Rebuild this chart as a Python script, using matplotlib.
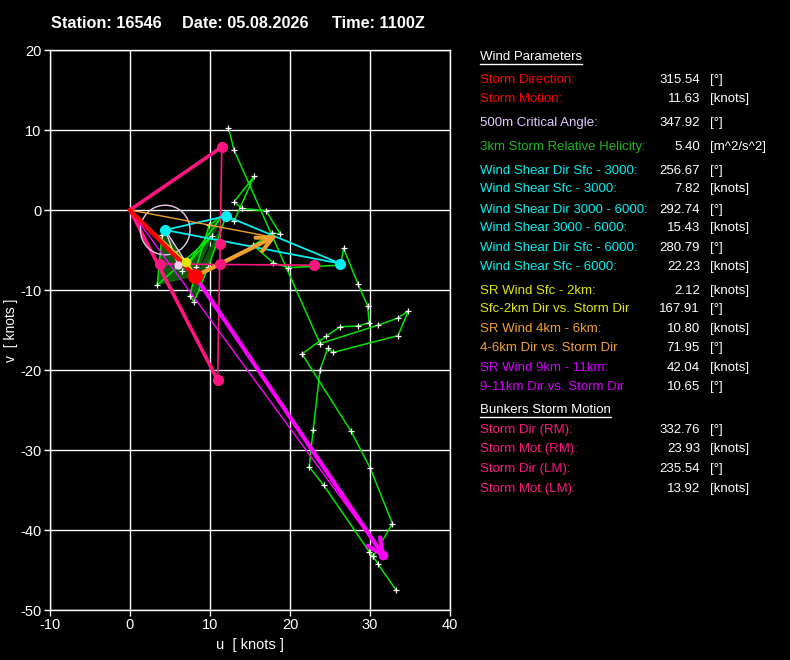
import math
import numpy as np
import matplotlib.pyplot as plt

plt.rcParams['font.family'] = ['Liberation Sans', 'DejaVu Sans']
plt.rcParams['axes.unicode_minus'] = False

station = '16546'
date_str = '05.08.2026'
time_str = '1100Z'

# hodograph trace (u, v) in knots; nan splits the trace
hodo_u = [4.4, 4.0, 3.4, 10.2, 6.5, 11.6, 9.9, 8.3, 7.5, 8.0, 9.8, 12.0, 13.0, 15.5, 13.0, 14.0,
          17.0, 18.8, 17.8, 15.4, 17.9, 19.8, 26.3, 26.7, 28.5, 29.7, 29.9, 28.5, 26.25, 24.5,
          21.5, 27.6, 30.0, 32.8, 30.4, 29.9, 24.2, 22.4, 22.9, 23.75, 24.7, 25.4, 33.5, 34.8,
          33.5, 31.0, 23.75, 13.0, 12.3, np.nan, 30.4, 31.0, 33.25]
hodo_v = [-2.5, -3.1, -9.4, -3.3, -7.6, -0.6, -1.9, -7.1, -10.75, -11.5, -7.1, -0.75, -1.4, 4.2, 1.0, 0.2,
          -0.1, -3.0, -2.9, -4.4, -6.6, -7.2, -6.9, -4.8, -9.25, -12.0, -14.1, -14.5, -14.6, -15.8,
          -18.0, -27.6, -32.2, -39.2, -43.3, -42.7, -34.4, -32.1, -27.5, -20.0, -17.3, -17.8, -15.7, -12.6,
          -13.5, -14.4, -16.7, 7.5, 10.3, np.nan, -43.3, -44.25, -47.5]
n_low = 12  # trace points up to 3 km (helicity area)

storm_dir, storm_spd = 315.54, 11.63
rm_dir, rm_spd = 332.76, 23.93
lm_dir, lm_spd = 235.54, 13.92

shear_u = [4.4, 12.0, 26.3]      # sfc, 3 km, 6 km
shear_v = [-2.5, -0.75, -6.7]
mean_02 = (7.0, -6.5)
mean_46 = (17.9, -3.4)
mean_911 = (31.6, -43.1)
crit_pt = (6.0, -6.9)
crit_radius = 3.1
bunk_u = [3.8, 11.2, 23.0, 11.25]
bunk_v = [-6.75, -6.75, -6.9, -4.3]

RED = '#FF0000'
LAV = '#E2C8FF'
SRH_G = '#1FB51F'
CYAN = '#00F0F0'
YEL = '#E0E800'
ORA = '#F0A030'
MAG = '#D400FF'
PINK = '#FF1480'

param_labels = ['Storm Direction:', 'Storm Motion:', '500m Critical Angle:',
                '3km Storm Relative Helicity:', 'Wind Shear Dir Sfc - 3000:', 'Wind Shear Sfc - 3000:',
                'Wind Shear Dir 3000 - 6000:', 'Wind Shear 3000 - 6000:', 'Wind Shear Dir Sfc - 6000:',
                'Wind Shear Sfc - 6000:', 'SR Wind Sfc - 2km:', 'Sfc-2km Dir vs. Storm Dir',
                'SR Wind 4km - 6km:', '4-6km Dir vs. Storm Dir', 'SR Wind 9km - 11km:',
                '9-11km Dir vs. Storm Dir', 'Storm Dir (RM):', 'Storm Mot (RM):',
                'Storm Dir (LM):', 'Storm Mot (LM):']
param_values = ['315.54', '11.63', '347.92', '5.40', '256.67', '7.82', '292.74', '15.43', '280.79',
                '22.23', '2.12', '167.91', '10.80', '71.95', '42.04', '10.65', '332.76', '23.93',
                '235.54', '13.92']
param_units = ['[°]', '[knots]', '[°]', '[m^2/s^2]', '[°]', '[knots]', '[°]', '[knots]', '[°]',
               '[knots]', '[knots]', '[°]', '[knots]', '[°]', '[knots]', '[°]', '[°]', '[knots]',
               '[°]', '[knots]']
param_colors = [RED, RED, LAV, SRH_G, CYAN, CYAN, CYAN, CYAN, CYAN, CYAN, YEL, YEL, ORA, ORA,
                MAG, MAG, PINK, PINK, PINK, PINK]
row_y = [80, 99, 123, 147, 171, 189, 210, 228, 248, 267, 291, 309, 329, 348, 368, 387,
         430, 449, 469, 489]


def wind_vec(direction, speed):
    d = math.radians(direction)
    return -speed * math.sin(d), -speed * math.cos(d)


def arrow(ax, p0, p1, color, lw, head=2.2, ang=25):
    ax.plot([p0[0], p1[0]], [p0[1], p1[1]], color=color, lw=lw, solid_capstyle='round', zorder=6)
    back = math.atan2(p0[1] - p1[1], p0[0] - p1[0])
    for s in (-1, 1):
        a = back + s * math.radians(ang)
        ax.plot([p1[0], p1[0] + head * math.cos(a)], [p1[1], p1[1] + head * math.sin(a)],
                color=color, lw=lw, solid_capstyle='round', zorder=6)


W, H = 790, 660
fig = plt.figure(figsize=(W / 100, H / 100), dpi=100, facecolor='black')
ax = fig.add_axes([50 / W, 50 / H, 400 / W, 560 / H], facecolor='black')

storm = wind_vec(storm_dir, storm_spd)
rm = wind_vec(rm_dir, rm_spd)
lm = wind_vec(lm_dir, lm_spd)

# helicity area (only counter-clockwise pieces drawn, as in the original)
for i in range(n_low - 1):
    a = (hodo_u[i] - storm[0], hodo_v[i] - storm[1])
    b = (hodo_u[i + 1] - storm[0], hodo_v[i + 1] - storm[1])
    if a[0] * b[1] - a[1] * b[0] > 0:
        ax.fill([storm[0], hodo_u[i], hodo_u[i + 1]], [storm[1], hodo_v[i], hodo_v[i + 1]],
                color='#0B5A0B', lw=0, zorder=2)

ax.plot(hodo_u, hodo_v, color='#00E600', lw=1.1, zorder=3)
ax.plot(hodo_u, hodo_v, ls='none', marker='+', ms=5, mew=0.9, color='white', zorder=4)

# bunkers
ax.plot([0, lm[0]], [0, lm[1]], color=PINK, lw=2.6, zorder=5)
ax.plot([0, rm[0]], [0, rm[1]], color=PINK, lw=2.6, zorder=5)
ax.plot([lm[0], rm[0]], [lm[1], rm[1]], color=PINK, lw=1.2, zorder=5)
ax.plot([bunk_u[0], bunk_u[2]], [bunk_v[0], bunk_v[2]], color=PINK, lw=1.2, zorder=5)
ax.plot(bunk_u + [lm[0], rm[0]], bunk_v + [lm[1], rm[1]], ls='none', marker='o', ms=7,
        color=PINK, zorder=7)

# shear triangle
ax.plot(shear_u + [shear_u[0]], shear_v + [shear_v[0]], color=CYAN, lw=1.3, zorder=5)
ax.plot(shear_u, shear_v, ls='none', marker='o', ms=7, color=CYAN, zorder=7)

# critical angle
circ = plt.Circle((shear_u[0], shear_v[0]), crit_radius, fill=False, ec='#F0C4EC', lw=1.0, zorder=5)
ax.add_patch(circ)
ax.plot([shear_u[0], crit_pt[0]], [shear_v[0], crit_pt[1]], color='#F0C4EC', lw=1.0, zorder=5)
ax.plot([shear_u[0], storm[0]], [shear_v[0], storm[1]], color='#F0C4EC', lw=1.0, zorder=5)
ax.plot(*crit_pt, marker='o', ms=5, color='#F4D0F0', zorder=7)

# storm relative winds
ax.plot([0, mean_911[0]], [0, mean_911[1]], color='#FF00FF', lw=1.0, zorder=5)
arrow(ax, storm, mean_911, '#FF00FF', 3.0)
ax.plot(*mean_911, marker='o', ms=6, color='#FF00FF', zorder=7)
ax.plot([0, mean_46[0]], [0, mean_46[1]], color=ORA, lw=1.0, zorder=5)
arrow(ax, storm, mean_46, ORA, 3.0)
ax.plot([0, mean_02[0]], [0, mean_02[1]], color=YEL, lw=1.0, zorder=5)
ax.plot([storm[0], mean_02[0]], [storm[1], mean_02[1]], color=YEL, lw=2.5, zorder=6)
ax.plot(*mean_02, marker='o', ms=6, color=YEL, zorder=7)

ax.plot([0, storm[0]], [0, storm[1]], color=RED, lw=3.0, zorder=6)
ax.plot(*storm, marker='o', ms=10, color=RED, zorder=8)

ax.set_xlim(-10, 40)
ax.set_ylim(-50, 20)
ax.set_xticks(range(-10, 41, 10))
ax.set_yticks(range(-50, 21, 10))
ax.grid(True, color='white', lw=1.0, zorder=1)
ax.set_axisbelow(True)
for sp in ax.spines.values():
    sp.set_color('white')
    sp.set_linewidth(1.0)
ax.tick_params(colors='white', labelsize=10.5, length=4, width=1, pad=2)
ax.set_xlabel('u  [ knots ]', color='white', fontsize=10.5, labelpad=4)
fig.text(11 / W, 1 - 330 / H, 'v  [ knots ]', color='white', fontsize=10,
         rotation=90, ha='center', va='center')

# title
for x, s in [(51, 'Station: ' + station), (182, 'Date: ' + date_str), (332, 'Time: ' + time_str)]:
    fig.text(x / W, 1 - 23 / H, s, color='white', fontsize=11.7, fontweight='bold',
             ha='left', va='center')

# parameter panel
renderer = fig.canvas.get_renderer()
for y, s in [(57, 'Wind Parameters'), (410, 'Bunkers Storm Motion')]:
    t = fig.text(480 / W, 1 - y / H, s, color='white', fontsize=9.5, ha='left', va='center')
    bb = t.get_window_extent(renderer)
    fig.add_artist(plt.Line2D([bb.x0 / W, bb.x1 / W], [1 - (y + 7) / H, 1 - (y + 7) / H],
                              color='white', lw=1.0, transform=fig.transFigure))

for lab, val, unit, col, y in zip(param_labels, param_values, param_units, param_colors, row_y):
    fy = 1 - y / H
    fig.text(480 / W, fy, lab, color=col, fontsize=9.5, ha='left', va='center')
    fig.text(700 / W, fy, val, color='white', fontsize=9.5, ha='right', va='center')
    fig.text(710 / W, fy, unit, color='white', fontsize=9.5, ha='left', va='center')

fig.savefig('out.png', dpi=100, facecolor='black')
